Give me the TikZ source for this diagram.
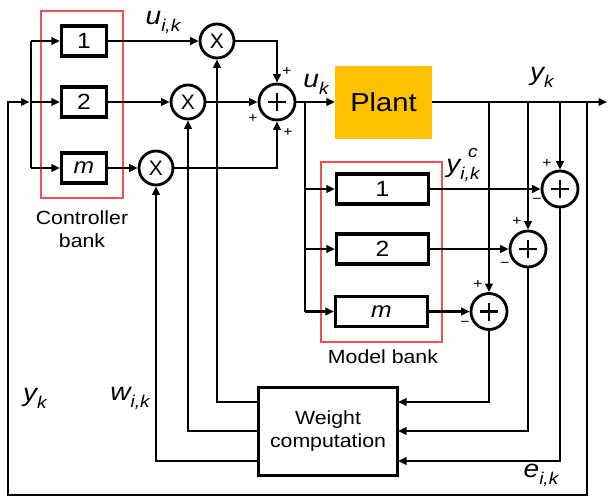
\documentclass[tikz,border=0pt]{standalone}
\usepackage{fontspec}
\setmainfont[FakeStretch=1.12]{Liberation Sans}
\newfontfamily\plainsans{Liberation Sans}
\usetikzlibrary{arrows.meta}
\definecolor{plantfill}{RGB}{255,192,0}
\definecolor{bankred}{RGB}{240,80,80}
\newcommand{\sublab}[2]{\itshape #1\raisebox{-7pt}{\fontsize{17}{17}\selectfont #2}}
\begin{document}
\begin{tikzpicture}[x=1pt,y=-1pt,
  wire/.style={line width=2.8pt},
  arr/.style={wire,-{Triangle[length=8.5pt,width=7.5pt]}},
  blk/.style={draw,line width=3.1pt,inner sep=0pt,fill=white},
  cblk/.style={blk,minimum width=45pt,minimum height=30pt,font=\fontsize{22}{22}\selectfont},
  mblk/.style={blk,minimum width=92pt,minimum height=30pt,font=\fontsize{22}{22}\selectfont},
  mult/.style={circle,draw,line width=2.8pt,fill=white,minimum size=34pt,inner sep=0pt,font=\plainsans\fontsize{21}{21}\selectfont},
  sumnode/.style={circle,draw,line width=2.8pt,fill=white,minimum size=36pt,inner sep=0pt,
    path picture={\draw[line width=2.8pt] ([xshift=-9pt]path picture bounding box.center) -- ([xshift=9pt]path picture bounding box.center);
                  \draw[line width=2.8pt] ([yshift=-9pt]path picture bounding box.center) -- ([yshift=9pt]path picture bounding box.center);}},
  bank/.style={draw=bankred,line width=1.1pt,inner sep=0pt},
  sign/.style={font=\fontsize{14}{14}\selectfont,inner sep=0pt},
  lab/.style={font=\fontsize{25}{25}\selectfont,inner sep=0pt},
  txt/.style={font=\fontsize{19}{23}\selectfont,align=center,inner sep=0pt}]
\useasboundingbox (0,0) rectangle (608,498);
\fill[white] (0,0) rectangle (608,498);

% banks
\node[bank,minimum width=82pt,minimum height=187pt] (cbank) at (82,104.5) {};
\node[bank,minimum width=121pt,minimum height=180pt] (mbank) at (381.5,252) {};
\node[txt] (cbanklab) at (82,229) {Controller\\bank};
\node[txt] (mbanklab) at (383,357) {Model bank};

% controller blocks
\node[cblk] (c1) at (84,41) {1};
\node[cblk] (c2) at (84,102) {2};
\node[cblk] (cm) at (84,168) {\itshape m};

% multipliers and sum
\node[mult] (x1) at (217,41) {X};
\node[mult] (x2) at (188,102) {X};
\node[mult] (xm) at (156,168) {X};
\node[sumnode] (s) at (277,102) {};

% plant
\node[fill=plantfill,minimum width=97pt,minimum height=73pt,inner sep=0pt,font=\fontsize{26}{26}\selectfont] (plant) at (383.5,102) {Plant};

% model blocks
\node[mblk] (m1) at (382.5,189) {1};
\node[mblk] (m2) at (382.5,249) {2};
\node[mblk] (mm) at (381.5,311.5) {\itshape m};

% error sums
\node[sumnode] (e1) at (560,189) {};
\node[sumnode] (e2) at (528,249) {};
\node[sumnode] (em) at (489,311.5) {};

% weight computation
\node[blk,minimum width=139pt,minimum height=88pt,txt] (w) at (328,431.5) {Weight\\computation};

% coordinates
\coordinate (busT) at (31,41);
\coordinate (busM) at (31,102);
\coordinate (busB) at (31,168);
\coordinate (frTL) at (8,102);
\coordinate (frBL) at (8,495);
\coordinate (frBR) at (587,495);
\coordinate (fr) at (587,102);
\coordinate (out) at (607,102);
\coordinate (t0) at (305,102);
\coordinate (mb1) at (305,189);
\coordinate (mb2) at (305,249);
\coordinate (mbm) at (305,311.5);
\coordinate (ta) at (489,102);
\coordinate (tb) at (528,102);
\coordinate (tc) at (560,102);
\coordinate (win1) at (398,402);
\coordinate (win2) at (398,431);
\coordinate (win3) at (398,461);
\coordinate (wo1) at (258,402);
\coordinate (wo2) at (258,431);
\coordinate (wo3) at (258,461);

% wires
\draw[wire] (busT) -- (busB);
\draw[arr] (busT) -- (c1);
\draw[arr] (busM) -- (c2);
\draw[arr] (busB) -- (cm);
\draw[arr] (fr) -- (frBR) -- (frBL) -- (frTL) -- ([xshift=-1.5pt]busM);
\draw[arr] (c1) -- (x1);
\draw[arr] (c2) -- (x2);
\draw[arr] (cm) -- (xm);
\draw[arr] (x1) -| (s);
\draw[arr] (x2) -- (s);
\draw[arr] (xm) -| (s);
\draw[arr] (s) -- (plant);
\draw[arr] (plant) -- (out);
\draw[wire] (t0) -- (mbm);
\draw[arr] (mb1) -- (m1);
\draw[arr] (mb2) -- (m2);
\draw[arr] (mbm) -- (mm);
\draw[arr] (ta) -- (em);
\draw[arr] (tb) -- (e2);
\draw[arr] (tc) -- (e1);
\draw[arr] (m1) -- (e1);
\draw[arr] (m2) -- (e2);
\draw[arr] (mm) -- (em);
\draw[arr] (em) |- (win1);
\draw[arr] (e2) |- (win2);
\draw[arr] (e1) |- (win3);
\draw[arr] (wo1) -| (x1);
\draw[arr] (wo2) -| (x2);
\draw[arr] (wo3) -| (xm);

% signs
\node[sign] (sg1) at (287,71) {+};
\node[sign] (sg2) at (253,118) {+};
\node[sign] (sg3) at (288,132) {+};
\node[sign] (sg4) at (547,163) {+};
\node[sign] (sg5) at (537,201) {−};
\node[sign] (sg6) at (517,221) {+};
\node[sign] (sg7) at (505,265) {−};
\node[sign] (sg8) at (478,284) {+};
\node[sign] (sg9) at (465,324) {−};

% labels
\node[lab] (luik) at (163,22) {\sublab{u}{i,k}};
\node[lab] (luk) at (316,84) {\sublab{u}{k}};
\node[lab] (lyk) at (542,77) {\sublab{y}{k}};
\node[lab] (lyc) at (463,165) {\itshape y\raisebox{-7pt}{\fontsize{17}{17}\selectfont i,k}\llap{\raisebox{15pt}{\fontsize{17}{17}\selectfont c\hspace{2pt}}}};
\node[lab] (lyk2) at (35,398) {\sublab{y}{k}};
\node[lab] (lwik) at (130,398) {\sublab{w}{i,k}};
\node[lab] (leik) at (541,475) {\sublab{e}{i,k}};
\end{tikzpicture}
\end{document}
